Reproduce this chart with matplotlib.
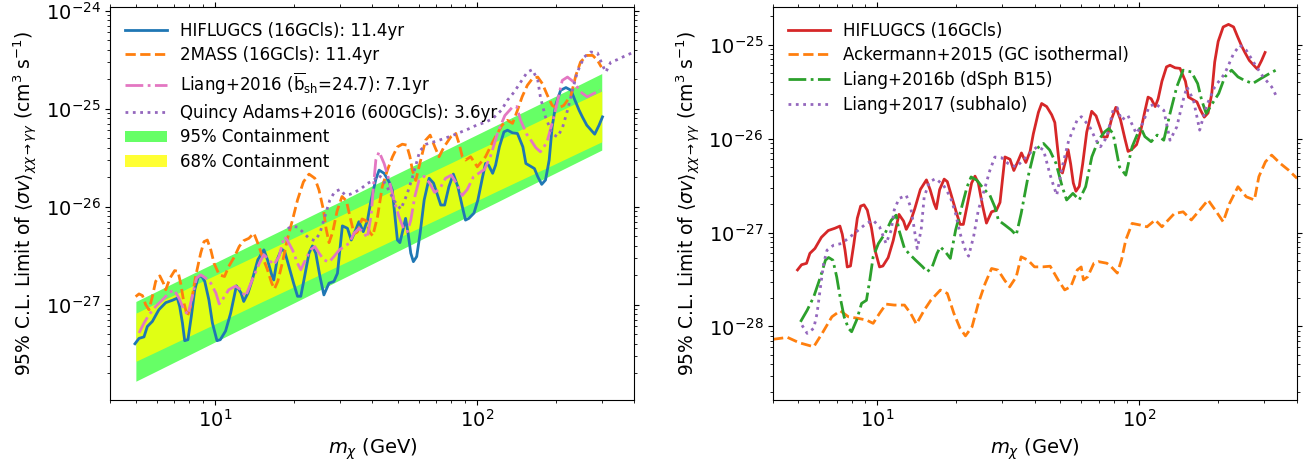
import numpy as np
import matplotlib
matplotlib.use("Agg")
import matplotlib.pyplot as plt
from matplotlib.ticker import NullFormatter
from matplotlib.patches import Patch

UNIT = 1e-27  # all sigma values below are in units of 1e-27 cm^3 s^-1

# ---------------- data (mass in GeV, <sigma v> in 1e-27 cm^3/s) ----------------
hiflugcs = [(4.96,0.40),(5.14,0.454),(5.37,0.47),(5.53,0.60),(5.63,0.63),(5.78,0.676),(6.12,0.89),
    (6.5,1.05),(6.89,1.11),(7.2,1.17),(7.35,0.96),(7.53,0.65),(7.68,0.43),(7.9,0.44),(8.14,0.76),
    (8.39,1.42),(8.64,1.91),(8.9,1.97),(9.16,1.73),(9.5,1.12),(9.8,0.65),(10.2,0.43),(10.5,0.44),
    (11.0,0.54),(11.5,0.82),(12.1,1.56),(12.6,1.32),(12.9,1.08),(13.4,1.32),(13.9,1.79),(14.6,2.87),
    (15.4,3.63),(15.9,2.87),(16.5,2.02),(16.8,1.79),(17.3,2.87),(18.0,3.7),(18.5,3.48),(19.2,2.45),
    (20.0,1.66),(20.7,1.22),(21.3,1.22),(21.9,1.79),(22.9,3.36),(23.6,3.98),(24.3,3.36),(25.2,1.95),
    (26.1,1.26),(27.3,1.66),(28.5,1.73),(29.4,2.09),(30.7,6.37),(32.1,6.02),(33.2,4.57),(34.5,5.8),
    (35.5,7.03),(36.9,5.56),(38.3,7.3),(39.4,11.2),(41.2,19.0),(42.4,23.6),(44.3,21.9),(46.3,17.9),
    (47.6,14.8),(48.6,8.57),(49.8,4.57),(50.9,4.3),(52.3,5.8),(53.5,7.6),(54.7,5.37),(56.0,3.36),
    (57.3,2.75),(59.0,3.1),(60.8,5.37),(63.0,11.7),(65.8,19.5),(68.4,17.4),(70.8,13.2),(72.9,10.4),
    (75.4,10.4),(78.3,16.0),(81.4,21.5),(84.7,16.0),(88.1,10.0),(90.6,7.3),(93.3,7.6),(97.6,8.6),
    (101,11.7),(105,19.5),(108,27.6),(111,26.5),(115,21.9),(118,26.5),(122,40.7),(127,57.9),
    (131,60.3),(137,56.6),(143,55.8),(150,40.7),(154,27.6),(158,26.5),(166,24.5),(171,20.2),
    (177,16.9),(183,18.7),(189,29.9),(194,65.2),(200,108),(209,154),(219,164),(229,154),(237,122),
    (246,96),(253,82.4),(263,67.8),(277,57.9),(282,54.9),(293,67.8),(302,82.4)]

twomass = [(4.99,1.21),(5.14,1.29),(5.3,1.24),(5.45,1.0),(5.61,0.89),(5.78,1.21),(5.95,1.73),
    (6.17,1.97),(6.37,1.66),(6.5,1.42),(6.75,1.87),(7.03,2.23),(7.24,2.19),(7.41,1.66),(7.63,1.04),
    (7.86,0.76),(8.09,0.96),(8.45,1.94),(8.84,3.36),(9.1,4.4),(9.37,4.57),(9.66,3.63),(9.94,2.65),
    (10.4,2.02),(10.9,1.94),(11.3,2.45),(11.9,3.1),(12.4,3.93),(12.9,4.5),(13.5,4.76),(14.1,5.37),
    (14.6,4.25),(15.2,3.1),(15.9,2.27),(16.5,1.66),(16.9,1.45),(17.4,1.73),(18.1,2.65),(18.9,4.57),
    (19.8,7.3),(20.7,11.7),(21.8,17.9),(22.9,21.5),(24.1,19.5),(25.0,14.8),(26.0,9.25),(26.6,6.0),
    (27.3,4.3),(28.2,5.5),(29.3,9.0),(30.6,12.7),(31.8,11.5),(32.8,8.0),(34.0,5.3),(35.0,5.5),
    (36.5,7.5),(37.8,7.2),(39.0,5.5),(40.1,5.04),(41.8,7.9),(43.6,16.0),(45.6,23.6),(47.7,32.3),
    (49.8,40.7),(52.0,43.4),(54.0,42.5),(55.6,32.3),(56.8,23.6),(58.5,18.5),(61.1,29.9),(63.8,47.7),
    (66.4,53.7),(69.2,40.7),(71.8,32.3),(75.0,40.7),(79.6,51.5),(83.2,55.8),(85.6,44.1),(88.1,32.3),
    (90.7,29.9),(94.8,32.3),(100.5,25.5),(108,32.3),(116,47.7),(125,68),(131,76),(137,70.8),
    (143,96),(149,132),(156,173),(163,202),(171,210),(178,180),(186,137),(194,108),(203,100),
    (215,108),(229,137),(239,219),(249,299),(263,349),(277,349),(289,311),(299,265)]

liang2016 = [(5.14,0.515),(5.37,0.65),(5.61,0.79),(5.95,0.96),(6.31,1.12),(6.69,1.32),(6.99,1.42),
    (7.3,1.17),(7.63,0.89),(7.9,0.79),(8.2,1.21),(8.53,1.87),(8.84,2.02),(9.24,1.87),(9.66,1.66),
    (10.1,1.32),(10.4,1.02),(10.9,1.21),(11.3,1.42),(12.0,1.55),(12.6,1.42),(13.1,1.21),(13.9,1.79),
    (14.8,2.65),(15.4,3.24),(16.1,2.87),(16.8,2.55),(17.6,3.1),(18.4,4.95),(18.9,4.57),(19.8,3.63),
    (20.7,2.65),(21.3,2.27),(22.2,2.87),(23.2,3.63),(24.1,3.92),(25.0,3.36),(26.1,2.87),(27.3,2.72),
    (28.5,3.1),(29.9,3.63),(31.2,3.92),(32.6,4.24),(34.0,5.37),(35.6,6.0),(37.2,5.37),(38.2,4.8),
    (39.5,8.0),(40.5,18.0),(41.2,30.0),(42.4,36.3),(44.3,27.6),(46.3,18.6),(48.3,11.7),(50.5,7.9),
    (52.8,5.8),(54.4,5.57),(56.0,7.3),(58.0,12.6),(60.2,18.6),(63.0,20.4),(66.0,17.5),(69.0,14.0),
    (72.0,15.0),(76.0,19.5),(80.0,21.0),(84.0,17.0),(88.0,13.0),(92.0,15.0),(97.0,20.0),(102,22.0),
    (107,24.0),(113,33.0),(120,56.0),(128,85.0),(137,104),(142,105),(147,76),(155,55),(161,47.7),
    (168,40.0),(175,36.3),(185,45.0),(197,82.4),(212,194),(222,210),(235,186),(249,148),(264,132),
    (280,143),(297,154)]

quincy2016 = [(19.0,6.0),(19.8,6.3),(20.7,6.2),(21.6,5.57),(22.9,4.76),(24.1,4.5),(25.2,5.37),
    (26.3,7.9),(27.5,11.7),(28.7,14.2),(30.1,15.0),(31.4,13.2),(32.9,13.4),(34.5,14.2),(36.3,15.4),
    (38.3,17.3),(40.6,18.7),(42.0,21.0),(43.4,19.8),(46.0,15.0),(48.4,11.5),(51.3,9.4),(54.2,13.4),
    (57.3,21.4),(60.6,37.0),(64.0,43.3),(71.6,47.5),(80.0,52.7),(86.0,57.0),(92.9,62.0),(100,68.0),
    (107,72.0),(115,79.0),(124,96.0),(131,122),(139,148),(147,186),(156,236),(163,250),(171,195),
    (175,131),(183,82),(194,55.7),(203,51.5),(212,62.7),(222,96),(232,154),(242,236),(257,336),
    (272,378),(289,369),(302,277),(311,236),(325,299),(344,316),(365,341),(398,378)]

# containment bands (left panel)
band_m = [5, 6, 7, 8, 10, 12, 15, 20, 25, 30, 40, 50, 60, 80, 100, 120, 150, 200, 250, 300]
c95_hi = [1.08, 1.37, 1.68, 2.0, 2.67, 3.39, 4.54, 6.61, 8.86, 11.2, 16.4, 21.9, 27.8, 40.5, 54.2, 68.8, 92.0, 134, 179, 228]
c68_hi = [0.82, 1.04, 1.26, 1.50, 1.99, 2.51, 3.33, 4.81, 6.39, 8.06, 11.6, 15.5, 19.5, 28.1, 37.4, 47.1, 62.6, 90.4, 120, 151]
c68_lo = [0.265, 0.333, 0.405, 0.479, 0.634, 0.797, 1.06, 1.52, 2.01, 2.53, 3.63, 4.81, 6.05, 8.69, 11.5, 14.5, 19.2, 27.5, 36.5, 45.9]
c95_lo = [0.166, 0.211, 0.259, 0.309, 0.416, 0.530, 0.712, 1.04, 1.40, 1.79, 2.62, 3.52, 4.48, 6.55, 8.81, 11.2, 15.1, 22.1, 29.7, 37.8]

ackermann2015 = [(4.0,0.073),(4.54,0.0766),(5.03,0.0672),(5.72,0.0608),(6.16,0.0845),(6.71,0.1268),
    (7.22,0.147),(7.76,0.1268),(8.46,0.122),(9.09,0.117),(9.64,0.108),(10.2,0.138),(10.8,0.173),
    (11.6,0.169),(12.7,0.169),(13.4,0.138),(14.1,0.106),(15.1,0.149),(16.0,0.19),(17.4,0.244),
    (18.5,0.225),(19.6,0.138),(20.7,0.0955),(21.7,0.0794),(23.0,0.0993),(24.3,0.176),(25.8,0.287),
    (27.3,0.414),(28.9,0.398),(30.6,0.311),(32.0,0.264),(33.9,0.337),(35.4,0.551),(37.6,0.508),
    (39.8,0.431),(42.8,0.431),(45.7,0.438),(49.0,0.313),(51.9,0.245),(54.8,0.266),(58.0,0.40),
    (60.0,0.43),(61.2,0.313),(63.5,0.338),(67.1,0.471),(69.8,0.49),(75.2,0.471),(78.0,0.434),
    (82.4,0.37),(85.5,0.51),(88.8,0.833),(93.9,1.25),(101,1.2),(107,1.15),(115,1.36),(122,1.15),
    (129,1.36),(136,1.59),(147,1.66),(158,1.36),(170,1.73),(183,2.22),(197,1.66),(209,1.3),
    (221,2.04),(238,3.07),(256,2.4),(275,2.22),(286,3.93),(303,5.66),(320,6.67),(345,5.44),
    (371,4.62),(400,3.77)]

liang2016b = [(5.09,0.112),(5.4,0.149),(5.72,0.207),(6.07,0.337),(6.34,0.508),(6.52,0.542),(6.77,0.508),
    (7.0,0.337),(7.21,0.207),(7.47,0.127),(7.76,0.0955),(7.98,0.0879),(8.34,0.117),(8.71,0.176),
    (9.09,0.19),(9.36,0.311),(9.64,0.55),(10.1,0.764),(10.7,0.976),(11.3,1.35),(11.8,1.53),(12.1,1.06),
    (12.7,0.676),(13.2,0.598),(14.0,0.508),(14.9,0.431),(15.5,0.381),(16.2,0.431),(16.9,0.598),
    (17.4,0.703),(18.2,0.622),(19.0,0.53),(19.9,1.06),(21.0,1.87),(22.0,3.05),(22.8,3.9),(24.0,3.6),
    (25.4,2.94),(26.9,2.49),(28.1,1.87),(29.0,1.35),(30.7,1.2),(32.5,1.06),(33.9,0.937),(35.4,1.59),
    (37.6,3.9),(39.8,7.5),(42.2,8.47),(43.1,8.87),(45.5,7.54),(48.1,5.44),(50.8,3.07),(52.8,2.22),
    (55.8,2.61),(59.0,2.22),(62.4,3.07),(65.9,6.4),(69.8,9.6),(73.8,11.8),(76.5,12.8),(79.4,11.3),
    (84.0,5.0),(88.8,4.08),(93.9,8.18),(101,13.3),(105,10.5),(111,9.26),(117,10.9),(124,9.6),
    (131,18.5),(139,35.5),(147,53.4),(158,51.2),(167,38.5),(173,25.6),(180,18.5),(190,23.6),
    (201,30.2),(212,45.3),(225,53.4),(238,45.3),(251,41.8),(271,38.5),(291,43.5),(314,49.2),(332,53.4)]

liang2017 = [(5.16,0.103),(5.4,0.0845),(5.72,0.0955),(5.89,0.138),(6.07,0.264),(6.24,0.469),(6.43,0.649),
    (6.81,0.733),(7.31,0.764),(7.87,0.898),(8.46,1.06),(9.09,1.25),(9.64,1.35),(10.2,1.15),(10.8,0.764),
    (11.3,1.06),(11.6,1.73),(12.1,2.3),(12.9,2.49),(13.4,1.87),(13.8,1.15),(14.2,0.676),(14.7,1.06),
    (15.1,2.39),(15.8,3.45),(16.7,3.75),(17.9,3.18),(19.0,2.39),(19.9,1.59),(20.7,0.976),(21.7,0.649),
    (22.3,0.56),(23.3,0.898),(24.3,1.73),(25.8,3.05),(26.9,4.59),(28.1,6.35),(29.8,6.25),(31.6,5.41),
    (33.9,4.98),(36.5,6.11),(39.2,7.5),(41.0,8.26),(43.1,7.54),(45.5,4.26),(47.2,3.07),(48.4,2.5),
    (50.8,5.0),(53.8,9.6),(57.9,15.7),(60.1,17.1),(64.7,13.3),(68.4,9.6),(71.1,8.18),(75.2,10.4),
    (79.4,20.0),(82.4,21.3),(85.5,15.7),(90.4,17.7),(97.4,11.3),(103,14.5),(109,21.8),(115,23.6),
    (124,20.0),(131,9.6),(139,13.3),(147,25.6),(152,35.5),(161,25.6),(170,12.3),(180,21.8),(194,35.5),
    (212,49.2),(229,80.2),(242,98.4),(256,87),(275,62.8),(297,45.3),(320,35.5),(332,29)]


def split(pairs):
    a = np.array(pairs, dtype=float)
    return a[:, 0], a[:, 1] * UNIT


fig = plt.figure(figsize=(13.12, 4.67), dpi=100)
axL = fig.add_axes([0.0842, 0.1445, 0.3994, 0.8415])
axR = fig.add_axes([0.5892, 0.1445, 0.3994, 0.8415])

LW = 2.0
LEG = dict(loc="upper left", frameon=False, fontsize=12, handlelength=2.5, labelspacing=0.4)

# ---- left panel ----
bm = np.array(band_m, float)
axL.fill_between(bm, np.array(c95_lo) * UNIT, np.array(c95_hi) * UNIT,
                 color="lime", alpha=0.6, linewidth=0, zorder=1)
axL.fill_between(bm, np.array(c68_lo) * UNIT, np.array(c68_hi) * UNIT,
                 color="yellow", alpha=0.8, linewidth=0, zorder=1.1)
l1, = axL.plot(*split(hiflugcs), color="C0", lw=LW, ls="-", label="HIFLUGCS (16GCls): 11.4yr")
l2, = axL.plot(*split(twomass), color="C1", lw=LW, ls="--", label="2MASS (16GCls): 11.4yr")
l3, = axL.plot(*split(liang2016), color="C6", lw=LW, ls="-.",
               label=r"Liang+2016 ($\overline{\mathrm{b}}_{\mathrm{sh}}$=24.7): 7.1yr")
l4, = axL.plot(*split(quincy2016), color="C4", lw=LW, ls=":", label="Quincy Adams+2016 (600GCls): 3.6yr")
p95 = Patch(facecolor="lime", alpha=0.6, linewidth=0, label="95% Containment")
p68 = Patch(facecolor="yellow", alpha=0.8, linewidth=0, label="68% Containment")
axL.legend(handles=[l1, l2, l3, l4, p95, p68], **LEG)
axL.set_ylim(1.08e-28, 1.1e-24)

# ---- right panel ----
r1, = axR.plot(*split(hiflugcs), color="C3", lw=LW, ls="-", label="HIFLUGCS (16GCls)")
r2, = axR.plot(*split(ackermann2015), color="C1", lw=LW, ls="--", label="Ackermann+2015 (GC isothermal)")
r3, = axR.plot(*split(liang2016b), color="C2", lw=LW, ls="-.", label="Liang+2016b (dSph B15)")
r4, = axR.plot(*split(liang2017), color="C4", lw=LW, ls=":", label="Liang+2017 (subhalo)")
axR.legend(handles=[r1, r2, r3, r4], **LEG)
axR.set_ylim(1.67e-29, 2.54e-25)

for ax in (axL, axR):
    ax.set_xscale("log")
    ax.set_yscale("log")
    ax.set_xlim(4, 400)
    ax.xaxis.set_minor_formatter(NullFormatter())
    ax.yaxis.set_minor_formatter(NullFormatter())
    ax.tick_params(which="both", direction="out", top=True, right=True, labelsize=14)
    ax.set_xlabel(r"$m_\chi$ (GeV)", fontsize=14)
    ax.set_ylabel(r"95% C.L. Limit of $\langle\sigma v\rangle_{\chi\chi\to\gamma\gamma}$ (cm$^3$ s$^{-1}$)",
                  fontsize=13.5)

fig.savefig("out.png", dpi=100)
